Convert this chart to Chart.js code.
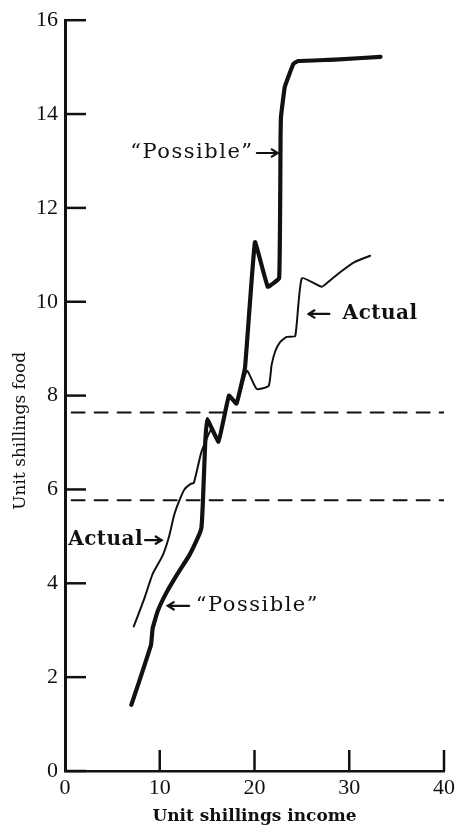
<!DOCTYPE html>
<html>
<head>
<meta charset="utf-8">
<script src="https://cdn.jsdelivr.net/npm/chart.js@4/dist/chart.umd.min.js"></script>
<style>
  html, body { margin: 0; padding: 0; background: #fff; }
  #wrap { width: 459px; height: 829px; }
</style>
</head>
<body>
<div id="wrap"><canvas id="myChart" width="459" height="829"></canvas></div>
<script>
// "Possible" food spending against income (thick line)
let possibleX = [7.0, 7.85, 9.08, 9.25, 9.77, 10.65, 11.87, 13.1, 14.1, 14.4, 14.55, 14.8, 15.0, 16.2, 17.3, 18.1, 19.0, 20.05, 21.4, 22.6, 22.75, 22.8, 23.2, 24.1, 24.6, 28.5, 33.3];
let possibleY = [1.41, 1.92, 2.69, 3.04, 3.40, 3.78, 4.20, 4.59, 5.01, 5.19, 5.72, 7.0, 7.5, 7.02, 8.0, 7.83, 8.6, 11.27, 10.32, 10.5, 13.5, 13.95, 14.58, 15.07, 15.13, 15.16, 15.22];

// Actual food spending (thin line)
let actualX = [7.26, 8.38, 9.25, 10.3, 11.0, 11.5, 12.04, 12.6, 13.27, 13.6, 14.4, 15.5, 16.2, 17.3, 18.1, 19.2, 20.24, 21.5, 21.8, 22.2, 22.7, 23.4, 24.3, 25.0, 27.1, 28.0, 29.1, 30.6, 32.2];
let actualY = [3.08, 3.68, 4.2, 4.59, 5.01, 5.44, 5.75, 6.0, 6.12, 6.14, 6.8, 7.3, 7.0, 8.0, 7.83, 8.53, 8.14, 8.21, 8.65, 8.95, 9.14, 9.25, 9.27, 10.5, 10.32, 10.46, 10.64, 10.85, 10.98];

// the two dashed reference levels
let levelX = [0.7, 40];
let upperLevel = [7.64, 7.64];
let lowerLevel = [5.77, 5.77];

let xTicks = [0, 10, 20, 30, 40];
let yTicks = [0, 2, 4, 6, 8, 10, 12, 14, 16];

const ink = '#111';

function pts(xs, ys) {
    return xs.map((v, i) => ({x: v, y: ys[i]}));
}

function arrow(ctx, x1, y1, x2, y2) {
    const a = Math.atan2(y2 - y1, x2 - x1);
    ctx.beginPath();
    ctx.moveTo(x1, y1);
    ctx.lineTo(x2, y2);
    ctx.moveTo(x2 - 7 * Math.cos(a - 0.55), y2 - 7 * Math.sin(a - 0.55));
    ctx.lineTo(x2, y2);
    ctx.lineTo(x2 - 7 * Math.cos(a + 0.55), y2 - 7 * Math.sin(a + 0.55));
    ctx.stroke();
}

// inner tick marks, curve labels and the y axis title
const notes = {
    id: 'notes',
    afterDraw(chart) {
        const {ctx, scales: {x, y}} = chart;
        ctx.save();
        ctx.strokeStyle = ink;
        ctx.fillStyle = ink;
        ctx.lineWidth = 2.5;
        ctx.lineCap = 'butt';

        // ticks point inward like the original
        yTicks.forEach(v => {
            const py = y.getPixelForValue(v);
            ctx.beginPath();
            ctx.moveTo(x.left, py);
            ctx.lineTo(x.left + 21, py);
            ctx.stroke();
        });
        xTicks.slice(1).forEach(v => {
            const px = x.getPixelForValue(v);
            ctx.beginPath();
            ctx.moveTo(px, y.bottom);
            ctx.lineTo(px, y.bottom - 21);
            ctx.stroke();
        });

        ctx.lineWidth = 2.2;
        ctx.lineCap = 'round';
        ctx.textBaseline = 'middle';
        ctx.letterSpacing = '1.5px';
        ctx.font = '21px "DejaVu Serif"';

        // upper "Possible"
        let py = y.getPixelForValue(13.17);
        ctx.textAlign = 'right';
        ctx.fillText('\u201CPossible\u201D', x.getPixelForValue(19.9), py);
        arrow(ctx, x.getPixelForValue(20.25), py, x.getPixelForValue(22.45), py);

        // lower "Possible"
        py = y.getPixelForValue(3.52);
        ctx.textAlign = 'left';
        ctx.fillText('\u201CPossible\u201D', x.getPixelForValue(13.8), py);
        arrow(ctx, x.getPixelForValue(13.1), py, x.getPixelForValue(10.85), py);

        ctx.letterSpacing = '0.5px';
        ctx.font = 'bold 20px "DejaVu Serif"';

        // upper Actual
        py = y.getPixelForValue(9.74);
        ctx.textAlign = 'left';
        ctx.fillText('Actual', x.getPixelForValue(29.3), py);
        arrow(ctx, x.getPixelForValue(27.9), py, x.getPixelForValue(25.7), py);

        // lower Actual
        py = y.getPixelForValue(4.92);
        ctx.textAlign = 'right';
        ctx.fillText('Actual', x.getPixelForValue(8.25), py);
        arrow(ctx, x.getPixelForValue(8.45), py, x.getPixelForValue(10.2), py);

        // y axis title, sits a little below centre in the original
        ctx.letterSpacing = '0px';
        ctx.font = '17px "DejaVu Serif"';
        ctx.translate(21, y.getPixelForValue(7.25));
        ctx.rotate(-Math.PI / 2);
        ctx.textAlign = 'center';
        ctx.fillText('Unit shillings food', 0, 0);
        ctx.restore();
    }
};

let chart = new Chart(document.getElementById('myChart').getContext('2d'), {
    type: 'line',
    data: {
        datasets: [
            {data: pts(levelX, upperLevel), borderColor: ink, borderWidth: 2, borderDash: [13, 10]},
            {data: pts(levelX, lowerLevel), borderColor: ink, borderWidth: 2, borderDash: [13, 10]},
            {label: 'Actual', data: pts(actualX, actualY), borderColor: ink, borderWidth: 2, tension: 0.15},
            {label: '"Possible"', data: pts(possibleX, possibleY), borderColor: ink, borderWidth: 4.2, tension: 0.08}
        ]
    },
    options: {
        responsive: false,
        animation: false,
        events: [],
        layout: {padding: {top: 13, right: 12, left: 0, bottom: 0}},
        elements: {
            point: {radius: 0},
            line: {fill: false, borderJoinStyle: 'round', borderCapStyle: 'round'}
        },
        plugins: {
            legend: {display: false},
            tooltip: {enabled: false}
        },
        scales: {
            x: {
                type: 'linear',
                min: 0,
                max: 40,
                afterFit: s => { s.height = 58; },
                afterBuildTicks: s => { s.ticks = xTicks.map(v => ({value: v})); },
                grid: {display: false, drawTicks: false},
                border: {display: true, color: ink, width: 2.5},
                ticks: {color: ink, padding: 4, maxRotation: 0, font: {family: 'Liberation Serif', size: 22}},
                title: {
                    display: true,
                    text: 'Unit shillings income',
                    color: ink,
                    padding: {top: 0, bottom: 2},
                    font: {family: 'DejaVu Serif', size: 17, weight: 'bold'}
                }
            },
            y: {
                min: 0,
                max: 16,
                afterFit: s => { s.width = 65; },
                afterBuildTicks: s => { s.ticks = yTicks.map(v => ({value: v})); },
                grid: {display: false, drawTicks: false},
                border: {display: true, color: ink, width: 3},
                ticks: {color: ink, padding: 7, font: {family: 'Liberation Serif', size: 22}}
            }
        }
    },
    plugins: [notes]
});
</script>
</body>
</html>
